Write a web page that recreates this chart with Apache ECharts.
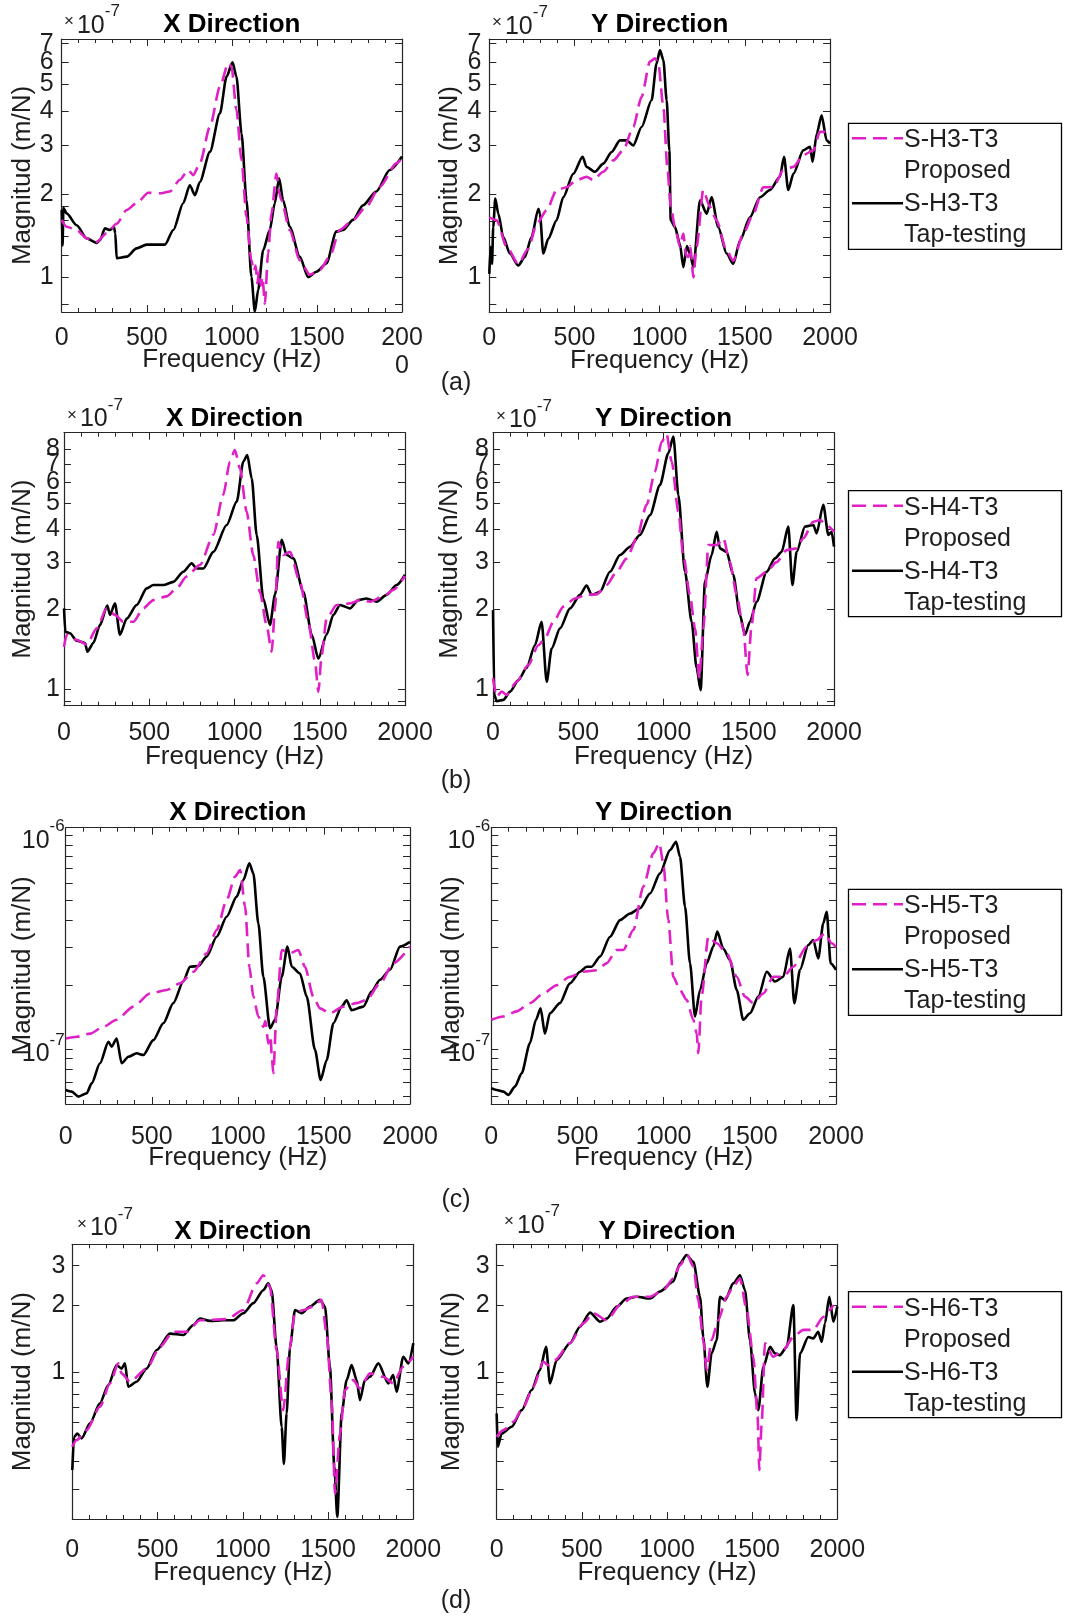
<!DOCTYPE html>
<html><head><meta charset="utf-8">
<script src="https://cdn.jsdelivr.net/npm/echarts@6/dist/echarts.min.js"></script>
<style>html,body{margin:0;padding:0;background:#fff}#c{width:1065px;height:1616px}</style>
</head><body><div id="c"></div>
<script>
// ---------- DATA (magnitudes in units of 1e-7 m/N, frequency in Hz) ----------
const xTicks = [0, 500, 1000, 1500, 2000];
const yTicksA = [1, 2, 3, 4, 5, 6, 7];
const yMinorA = [0.8, 1.2, 1.4, 1.6, 1.8];
const yTicksB = [1, 2, 3, 4, 5, 6, 7, 8];
const yMinorB = [0.9];
const yTicksC = [1, 10];
const yMinorC = [0.6, 0.7, 0.8, 0.9, 2, 3, 4, 5, 6, 7, 8, 9];
const yTicksD = [1, 2, 3];
const yMinorD = [0.3, 0.4, 0.5, 0.6, 0.7, 0.8, 0.9];

const aX_tap = [[0,1.75],[5,1.3],[10,1.78],[29,1.7],[88,1.54],[147,1.38],[205,1.33],[225,1.36],[254,1.5],[284,1.48],[307,1.52],[315,1.44],[323,1.17],[382,1.185],[440,1.27],[499,1.31],[558,1.31],[607,1.31],[656,1.48],[714,1.85],[753,2.15],[783,1.98],[812,2.21],[871,2.84],[930,3.92],[969,5.32],[1004,5.99],[1027,5.32],[1057,3.31],[1086,1.9],[1115,1.0],[1135,0.75],[1155,0.9],[1184,1.25],[1223,1.48],[1252,1.85],[1278,2.28],[1301,1.9],[1340,1.52],[1399,1.185],[1448,1.0],[1497,1.045],[1556,1.12],[1614,1.46],[1654,1.48],[1712,1.61],[1771,1.82],[1849,2.04],[1928,2.44],[2000,2.73]];
const aX_prop = [[0,1.61],[29,1.52],[88,1.48],[147,1.38],[205,1.34],[264,1.44],[323,1.56],[382,1.75],[440,1.85],[509,2.02],[577,2.01],[636,2.04],[695,2.25],[743,2.44],[773,2.34],[812,2.58],[871,3.5],[930,4.89],[979,5.95],[998,5.78],[1027,4.03],[1057,2.65],[1086,1.65],[1115,1.15],[1130,1.05],[1140,1.1],[1150,0.95],[1160,1.05],[1170,0.93],[1180,1.0],[1194,0.8],[1213,1.22],[1233,1.7],[1262,2.37],[1280,2.0],[1291,1.9],[1340,1.48],[1399,1.15],[1458,1.02],[1517,1.06],[1575,1.185],[1634,1.48],[1712,1.61],[1791,1.8],[1869,2.12],[1967,2.58],[2000,2.69]];
const aY_tap = [[0,1.03],[8,1.29],[16,1.12],[23,1.52],[35,1.93],[53,1.7],[82,1.4],[121,1.22],[170,1.105],[209,1.185],[248,1.4],[288,1.77],[297,1.7],[317,1.22],[346,1.38],[395,1.61],[434,1.95],[493,2.37],[548,2.73],[571,2.51],[620,2.41],[669,2.58],[718,2.84],[767,3.13],[806,3.13],[845,3.0],[894,3.5],[953,4.38],[982,5.95],[1002,6.64],[1022,6.1],[1041,4.38],[1057,2.88],[1065,1.61],[1090,1.52],[1119,1.32],[1139,1.09],[1160,1.3],[1178,1.22],[1198,1.09],[1237,1.9],[1276,1.7],[1305,1.95],[1344,1.52],[1393,1.22],[1432,1.12],[1472,1.36],[1530,1.65],[1589,1.95],[1648,2.07],[1706,2.31],[1730,2.73],[1755,2.07],[1785,2.37],[1843,2.88],[1883,2.97],[1898,2.62],[1922,3.31],[1951,3.86],[1980,3.13],[2000,3.05]];
const aY_prop = [[0,1.65],[43,1.61],[102,1.29],[170,1.12],[229,1.27],[278,1.56],[337,1.75],[395,2.07],[454,2.12],[513,2.25],[571,2.31],[610,2.25],[669,2.41],[728,2.65],[786,2.88],[845,3.5],[894,4.5],[943,6.03],[973,6.2],[992,5.95],[1022,4.14],[1045,2.51],[1065,1.8],[1090,1.52],[1119,1.29],[1139,1.44],[1155,1.2],[1168,1.185],[1180,1.3],[1198,1.0],[1217,1.29],[1256,2.07],[1295,1.8],[1334,1.61],[1393,1.25],[1432,1.15],[1491,1.44],[1550,1.7],[1609,2.12],[1667,2.12],[1726,2.44],[1785,2.51],[1843,2.77],[1902,2.88],[1941,3.36],[1971,3.36],[2000,3.22]];
const bX_tap = [[0,2.01],[8,1.64],[35,1.62],[74,1.52],[123,1.49],[137,1.38],[172,1.49],[211,1.74],[254,2.06],[270,1.9],[299,2.1],[328,1.6],[368,1.84],[426,2.07],[485,2.39],[524,2.46],[583,2.46],[641,2.53],[700,2.76],[749,2.97],[778,2.84],[817,2.84],[876,3.28],[954,4.14],[1013,5.07],[1052,7.17],[1075,7.59],[1101,6.2],[1130,3.8],[1169,2.19],[1208,1.74],[1238,2.27],[1277,3.64],[1306,3.19],[1345,3.1],[1404,2.32],[1453,1.6],[1492,1.3],[1540,1.6],[1580,1.9],[1619,2.07],[1677,2.01],[1726,2.16],[1775,2.19],[1834,2.13],[1892,2.26],[1951,2.46],[2000,2.69]];
const bX_prop = [[0,1.44],[16,1.6],[74,1.53],[133,1.47],[192,1.69],[250,2.01],[299,1.9],[348,1.79],[407,1.79],[465,2.01],[524,2.16],[602,2.23],[661,2.39],[719,2.65],[798,2.93],[876,3.8],[934,5.37],[973,7.17],[1002,7.93],[1032,6.77],[1071,4.65],[1110,3.19],[1149,2.32],[1188,1.74],[1218,1.38],[1238,2.01],[1257,3.58],[1286,3.19],[1325,3.28],[1384,2.53],[1433,1.79],[1472,1.27],[1492,0.977],[1511,1.34],[1540,1.84],[1599,2.07],[1677,2.1],[1736,2.16],[1795,2.13],[1873,2.23],[1931,2.36],[2000,2.66]];
const bY_tap = [[0,1.98],[8,0.95],[21,0.9],[61,0.91],[100,0.977],[149,1.08],[197,1.2],[246,1.46],[285,1.79],[315,1.065],[344,1.42],[393,1.69],[452,2.01],[510,2.26],[549,2.45],[579,2.26],[628,2.32],[686,2.76],[745,3.19],[804,3.43],[862,3.8],[921,4.51],[979,5.85],[1028,7.7],[1058,8.9],[1087,5.37],[1126,2.76],[1165,1.79],[1194,1.2],[1218,0.99],[1243,2.53],[1282,3.19],[1312,3.9],[1331,3.38],[1370,3.28],[1409,2.69],[1448,1.9],[1478,1.6],[1507,1.79],[1546,2.13],[1605,2.76],[1654,3.1],[1693,3.28],[1732,4.08],[1756,2.46],[1781,3.28],[1830,4.08],[1879,4.14],[1898,3.85],[1937,4.93],[1967,3.8],[1986,3.9],[2000,3.43]];
const bY_prop = [[0,1.1],[21,0.936],[51,0.977],[80,0.95],[139,1.065],[207,1.23],[266,1.46],[305,1.55],[354,1.79],[413,2.04],[481,2.19],[549,2.26],[608,2.27],[667,2.46],[725,2.76],[784,3.1],[843,3.69],[901,4.93],[950,6.57],[989,8.5],[1018,9.1],[1048,7.17],[1087,4.65],[1116,3.19],[1155,2.26],[1185,1.69],[1210,1.1],[1234,1.69],[1263,3.48],[1312,3.48],[1351,3.69],[1390,3.0],[1429,2.26],[1468,1.69],[1493,1.13],[1517,1.74],[1546,2.61],[1605,2.76],[1663,3.0],[1722,3.33],[1781,3.38],[1820,3.69],[1879,4.26],[1918,4.32],[1957,4.14],[2000,3.9]];
const cX_tap = [[0,0.642],[35,0.631],[74,0.598],[122,0.62],[151,0.69],[199,0.857],[248,1.08],[267,1.025],[296,1.12],[325,0.857],[364,0.92],[412,0.954],[451,0.937],[509,1.1],[567,1.32],[625,1.64],[683,2.07],[722,2.43],[771,2.45],[819,2.71],[877,3.36],[935,4.17],[993,5.18],[1032,6.2],[1067,7.43],[1090,6.66],[1119,3.88],[1148,2.18],[1187,1.25],[1216,1.37],[1255,2.18],[1288,3.02],[1313,2.43],[1361,2.26],[1400,1.76],[1448,0.99],[1481,0.716],[1516,0.888],[1555,1.32],[1603,1.58],[1632,1.69],[1661,1.52],[1729,1.58],[1777,1.86],[1826,2.11],[1884,2.35],[1942,3.02],[2000,3.18]];
const cX_prop = [[0,1.12],[64,1.14],[141,1.18],[219,1.27],[296,1.37],[393,1.58],[490,1.82],[587,1.89],[664,2.03],[742,2.3],[819,2.81],[877,3.61],[935,4.99],[984,6.43],[1013,6.9],[1042,4.65],[1067,2.43],[1090,1.76],[1119,1.42],[1148,1.27],[1160,1.35],[1177,1.06],[1190,1.15],[1197,0.92],[1206,0.77],[1226,1.58],[1255,2.91],[1303,2.81],[1351,2.91],[1390,2.43],[1438,1.76],[1477,1.55],[1535,1.47],[1613,1.58],[1690,1.64],[1748,1.7],[1826,2.03],[1903,2.52],[2000,3.02]];
const cY_tap = [[0,0.654],[31,0.642],[70,0.631],[99,0.609],[137,0.666],[176,0.769],[224,1.063],[259,1.37],[286,1.55],[311,1.18],[340,1.47],[398,1.64],[456,2.03],[515,2.3],[553,2.43],[582,2.43],[631,2.71],[689,3.36],[747,4.02],[805,4.32],[863,4.57],[921,5.36],[979,6.66],[1037,8.56],[1072,9.37],[1095,7.96],[1124,4.65],[1153,2.52],[1182,1.42],[1211,1.89],[1250,2.52],[1288,3.02],[1311,3.55],[1346,2.96],[1385,2.61],[1424,1.89],[1462,1.37],[1501,1.47],[1549,1.76],[1598,2.3],[1646,2.07],[1694,2.18],[1733,2.96],[1758,1.64],[1791,2.35],[1839,3.07],[1868,3.24],[1897,2.66],[1926,3.88],[1946,4.4],[1969,2.52],[2000,2.35]];
const cY_prop = [[0,1.37],[70,1.42],[147,1.5],[224,1.64],[302,1.82],[379,1.99],[456,2.18],[534,2.3],[611,2.34],[669,2.52],[727,2.91],[766,2.91],[824,3.61],[882,5.77],[940,8.26],[975,9.23],[998,7.43],[1027,4.02],[1056,2.18],[1095,1.89],[1133,1.7],[1172,1.37],[1192,1.18],[1201,0.954],[1220,1.76],[1259,3.36],[1308,3.13],[1366,2.81],[1424,2.18],[1472,1.76],[1520,1.64],[1578,1.82],[1636,2.18],[1694,2.18],[1752,2.43],[1830,3.02],[1888,3.24],[1936,3.48],[1975,3.13],[2000,3.0]];
const dX_tap = [[0,0.366],[10,0.515],[29,0.533],[55,0.507],[104,0.592],[162,0.727],[211,0.878],[260,1.078],[289,1.04],[309,1.097],[328,0.863],[377,0.908],[436,1.04],[495,1.26],[573,1.49],[651,1.47],[710,1.63],[749,1.74],[807,1.7],[886,1.71],[944,1.71],[1003,1.84],[1062,2.04],[1120,2.33],[1149,2.5],[1169,2.33],[1198,1.3],[1228,0.57],[1241,0.39],[1257,0.656],[1277,1.3],[1306,1.9],[1345,1.84],[1394,1.97],[1452,2.11],[1482,1.97],[1511,1.06],[1537,0.379],[1554,0.226],[1580,0.656],[1609,0.924],[1638,1.078],[1668,0.924],[1687,0.752],[1716,0.924],[1746,0.956],[1795,1.097],[1853,0.893],[1882,0.973],[1902,0.82],[1941,1.175],[1971,1.097],[2000,1.35]];
const dX_prop = [[0,0.465],[25,0.498],[84,0.552],[162,0.702],[221,0.893],[270,1.097],[289,0.99],[338,0.908],[436,1.04],[514,1.3],[592,1.52],[671,1.52],[749,1.71],[905,1.73],[1003,1.9],[1081,2.5],[1120,2.72],[1159,2.42],[1198,1.26],[1237,0.678],[1273,1.26],[1306,1.84],[1355,1.9],[1413,1.97],[1462,2.11],[1492,1.49],[1521,0.752],[1541,0.287],[1570,0.533],[1599,0.834],[1648,0.924],[1687,0.848],[1746,0.99],[1824,0.956],[1882,0.893],[1941,1.06],[2000,1.175]];
const dY_tap = [[0,0.655],[6,0.465],[29,0.533],[88,0.571],[147,0.678],[205,0.834],[254,1.024],[290,1.3],[313,0.893],[352,1.135],[430,1.35],[489,1.6],[548,1.85],[607,1.685],[646,1.74],[705,1.97],[763,2.14],[822,2.18],[900,2.14],[959,2.3],[1037,2.55],[1076,3.07],[1115,3.35],[1155,3.12],[1194,2.18],[1213,1.44],[1237,0.863],[1262,1.216],[1292,1.395],[1311,2.18],[1341,2.1],[1389,2.5],[1429,2.72],[1458,2.33],[1487,1.395],[1517,0.806],[1536,0.678],[1566,1.06],[1605,1.3],[1634,1.216],[1663,1.195],[1703,1.3],[1742,2.0],[1761,0.612],[1781,1.216],[1830,1.44],[1859,1.42],[1888,1.52],[1908,1.37],[1928,1.66],[1953,2.18],[1977,1.685],[2000,1.97]];
const dY_prop = [[0,0.515],[39,0.552],[98,0.602],[157,0.702],[215,0.863],[274,1.116],[303,1.078],[342,1.135],[430,1.35],[509,1.66],[568,1.84],[646,1.71],[724,2.0],[802,2.18],[900,2.18],[978,2.33],[1037,2.63],[1076,3.02],[1119,3.35],[1155,2.97],[1184,2.1],[1213,1.395],[1233,1.024],[1262,1.395],[1301,1.71],[1350,2.18],[1389,2.42],[1429,2.63],[1468,1.9],[1507,1.175],[1532,0.634],[1542,0.366],[1556,0.59],[1575,1.35],[1624,1.175],[1683,1.26],[1742,1.44],[1800,1.55],[1859,1.55],[1918,1.77],[1977,2.0]];

const specimens = ['S-H3-T3', 'S-H4-T3', 'S-H5-T3', 'S-H6-T3'];
const panelLetters = ['(a)', '(b)', '(c)', '(d)'];
const directions = ['X Direction', 'Y Direction'];

// ---------- LAYOUT / STYLE ----------
const FONT = "'Liberation Sans', Arial, Helvetica, sans-serif";
const INK = '#1e1e1e';
const FRAME = '#262626';
const MAG = '#e020c6';

const rows = [
  {ticks: yTicksA, minor: yMinorA, min: 0.747, max: 7.28, spec: specimens[0], mult: true,
   series: [[aX_tap, aX_prop], [aY_tap, aY_prop]],
   grids: [[61.7, 39, 340.3, 273], [489.3, 39, 340.7, 273.5]],
   xMargin: 12, xNameGap: 35, yNameGap: [25.7, 26], yMargin: [8, 8],
   titleTop: 12, multTop: [3.2, 4.2], multLeft: [64, 492], legendTop: 123.3, letterY: 383},
  {ticks: yTicksB, minor: yMinorB, min: 0.865, max: 9.21, spec: specimens[1], mult: true,
   series: [[bX_tap, bX_prop], [bY_tap, bY_prop]],
   grids: [[64, 432.7, 341, 273], [493, 432.7, 341, 273]],
   xMargin: 13.6, xNameGap: 38, yNameGap: [28, 30], yMargin: [4, 4],
   titleTop: 406, multTop: [396.5, 397.5], multLeft: [67, 496], legendTop: 490.7, letterY: 781},
  {ticks: yTicksC, minor: yMinorC, min: 0.552, max: 10.9, spec: specimens[2], mult: false,
   series: [[cX_tap, cX_prop], [cY_tap, cY_prop]],
   grids: [[65.7, 827.7, 344.3, 276.3], [491.3, 827.7, 344.7, 276.3]],
   xMargin: 18.7, xNameGap: 41, yNameGap: [29.7, 26], yMargin: [1, 1],
   titleTop: 800, legendTop: 889.3, letterY: 1200},
  {ticks: yTicksD, minor: yMinorD, min: 0.221, max: 3.74, spec: specimens[3], mult: true,
   series: [[dX_tap, dX_prop], [dY_tap, dY_prop]],
   grids: [[72.3, 1244.3, 341, 274.7], [496.7, 1244.3, 340.6, 274.7]],
   xMargin: 17, xNameGap: 41, yNameGap: [36, 31.7], yMargin: [7, 7],
   titleTop: 1219, multTop: [1205.5, 1203.2], multLeft: [77, 504], legendTop: 1291.7, letterY: 1601}
];

const option = {
  animation: false, backgroundColor: '#fff',
  grid: [], xAxis: [], yAxis: [], series: [], title: [], graphic: []
};

const axisLineStyle = {show: true, onZero: false, lineStyle: {color: FRAME, width: 1.2}};
const labelBase = {fontSize: 25, color: INK, fontFamily: FONT};
const nameBase = {fontSize: 26, color: INK, fontFamily: FONT, lineHeight: 26};

rows.forEach((r, ri) => {
  [0, 1].forEach(col => {
    const g = r.grids[col];
    const gi = option.grid.length;
    option.grid.push({left: g[0], top: g[1], width: g[2], height: g[3], show: false, outerBoundsMode: 'none', containLabel: false});
    const xi = option.xAxis.length;
    const isWrap = (ri === 0 && col === 0);
    option.xAxis.push({
      gridIndex: gi, type: 'value', position: 'bottom', min: xTicks[0], max: xTicks[xTicks.length - 1], interval: 500,
      name: 'Frequency (Hz)', nameLocation: 'middle', nameGap: r.xNameGap, nameMoveOverlap: false, nameTextStyle: nameBase,
      axisLine: axisLineStyle,
      axisTick: {show: true, inside: true, length: 7, lineStyle: {color: FRAME, width: 1}},
      minorTick: {show: true, splitNumber: 5, length: 4, lineStyle: {color: FRAME, width: 1}},
      splitLine: {show: false}, minorSplitLine: {show: false},
      axisLabel: Object.assign({}, labelBase, {margin: r.xMargin, lineHeight: 28, hideOverlap: false,
        formatter: v => (isWrap && v === 2000) ? '200\n0' : String(v)})
    });
    option.xAxis.push({
      gridIndex: gi, type: 'value', position: 'top', min: xTicks[0], max: xTicks[xTicks.length - 1], interval: 500,
      axisLine: axisLineStyle,
      axisTick: {show: true, inside: true, length: 7, lineStyle: {color: FRAME, width: 1}},
      minorTick: {show: true, splitNumber: 5, length: 4, lineStyle: {color: FRAME, width: 1}},
      splitLine: {show: false}, axisLabel: {show: false}
    });
    const yi = option.yAxis.length;
    const allTicks = r.ticks.concat(r.minor);
    const isC = (ri === 2);
    const makeLabel = (vals) => {
      const lab = Object.assign({}, labelBase, {
        customValues: vals, margin: r.yMargin[col], hideOverlap: false,
        formatter: isC ? (v => v > 5 ? '{n|10}{s|-6}' : '{n|10}{s|-7}') : (v => String(Math.round(v * 100) / 100))
      });
      if (isC) lab.rich = {
        n: {fontSize: 25, color: INK, fontFamily: FONT, padding: [10, 0, 0, 0]},
        s: {fontSize: 17, color: INK, fontFamily: FONT, verticalAlign: 'top'}
      };
      return lab;
    };
    // labels alternate between two left axes so that close log-spaced labels are never auto-hidden
    const evenLabels = r.ticks.filter((_, i) => i % 2 === 0);
    const oddLabels = r.ticks.filter((_, i) => i % 2 === 1);
    option.yAxis.push({
      gridIndex: gi, type: 'log', logBase: 10, position: 'left', min: r.min, max: r.max,
      name: 'Magnitud (m/N)', nameLocation: 'middle', nameGap: r.yNameGap[col], nameMoveOverlap: false, nameTextStyle: nameBase,
      axisLine: axisLineStyle,
      axisTick: {show: true, inside: true, length: 7, customValues: allTicks, lineStyle: {color: FRAME, width: 1}},
      minorTick: {show: false}, splitLine: {show: false}, minorSplitLine: {show: false},
      axisLabel: makeLabel(evenLabels)
    });
    option.yAxis.push({
      gridIndex: gi, type: 'log', logBase: 10, position: 'right', min: r.min, max: r.max,
      axisLine: axisLineStyle,
      axisTick: {show: true, inside: true, length: 7, customValues: allTicks, lineStyle: {color: FRAME, width: 1}},
      minorTick: {show: false}, splitLine: {show: false}, axisLabel: {show: false}
    });
    if (oddLabels.length) {
      option.yAxis.push({
        gridIndex: gi, type: 'log', logBase: 10, position: 'left', offset: 0, min: r.min, max: r.max,
        axisLine: {show: false}, axisTick: {show: false}, minorTick: {show: false},
        splitLine: {show: false}, minorSplitLine: {show: false},
        axisLabel: makeLabel(oddLabels)
      });
    }
    const [tap, prop] = r.series[col];
    option.series.push({
      name: r.spec + ' Tap-testing', type: 'line', xAxisIndex: xi, yAxisIndex: yi, data: tap,
      symbol: 'none', showSymbol: false, smooth: 0.25, smoothMonotone: 'x', clip: true, z: 2,
      lineStyle: {color: '#000', width: 2.6}
    });
    option.series.push({
      name: r.spec + ' Proposed', type: 'line', xAxisIndex: xi, yAxisIndex: yi, data: prop,
      symbol: 'none', showSymbol: false, smooth: 0.25, smoothMonotone: 'x', clip: true, z: 3,
      lineStyle: {color: MAG, width: 2.6, type: [14, 7]}
    });
    // direction title
    option.title.push({
      text: directions[col], left: g[0] + g[2] / 2, top: r.titleTop, textAlign: 'center', padding: 0,
      textStyle: {fontSize: 26, fontWeight: 'bold', color: '#000', fontFamily: FONT, lineHeight: 26}
    });
    if (r.mult) {
      option.title.push({
        text: '{x|×}{n|10}{s|-7}', left: r.multLeft[col], top: r.multTop[col], padding: 0,
        textStyle: {fontWeight: 'normal', rich: {
          x: {fontSize: 17, fontWeight: 'normal', color: INK, fontFamily: FONT, lineHeight: 25, padding: [10, 3, 0, 0], verticalAlign: 'top'},
          n: {fontSize: 25, fontWeight: 'normal', color: INK, fontFamily: FONT, lineHeight: 25, padding: [10, 0, 0, 0], verticalAlign: 'top'},
          s: {fontSize: 17, fontWeight: 'normal', color: INK, fontFamily: FONT, lineHeight: 17, verticalAlign: 'top'}
        }}
      });
    }
  });
  // panel letter
  option.title.push({
    text: panelLetters[ri], left: 456, top: r.letterY - 13, textAlign: 'center', padding: 0,
    textStyle: {fontSize: 25, fontWeight: 'normal', color: INK, fontFamily: FONT, lineHeight: 26}
  });
  // legend box
  const T = r.legendTop;
  const txt = (t, y) => ({type: 'text', x: 904, y: y, z: 101,
    style: {text: t, fill: INK, font: '25px ' + FONT, textVerticalAlign: 'middle', verticalAlign: 'middle'}});
  option.graphic.push(
    {type: 'rect', z: 100, shape: {x: 848.5, y: T, width: 213, height: 126},
     style: {fill: '#fff', stroke: '#000', lineWidth: 1.3}},
    {type: 'line', z: 101, shape: {x1: 852, y1: T + 15, x2: 903, y2: T + 15},
     style: {stroke: MAG, lineWidth: 2.6, lineDash: [14, 7]}},
    {type: 'line', z: 101, shape: {x1: 852, y1: T + 80, x2: 903, y2: T + 80},
     style: {stroke: '#000', lineWidth: 2.6}},
    txt(r.spec, T + 17), txt('Proposed', T + 48), txt(r.spec, T + 81), txt('Tap-testing', T + 112)
  );
});

const chart = echarts.init(document.getElementById('c'), null, {renderer: 'canvas'});
chart.setOption(option);
</script>
</body></html>
